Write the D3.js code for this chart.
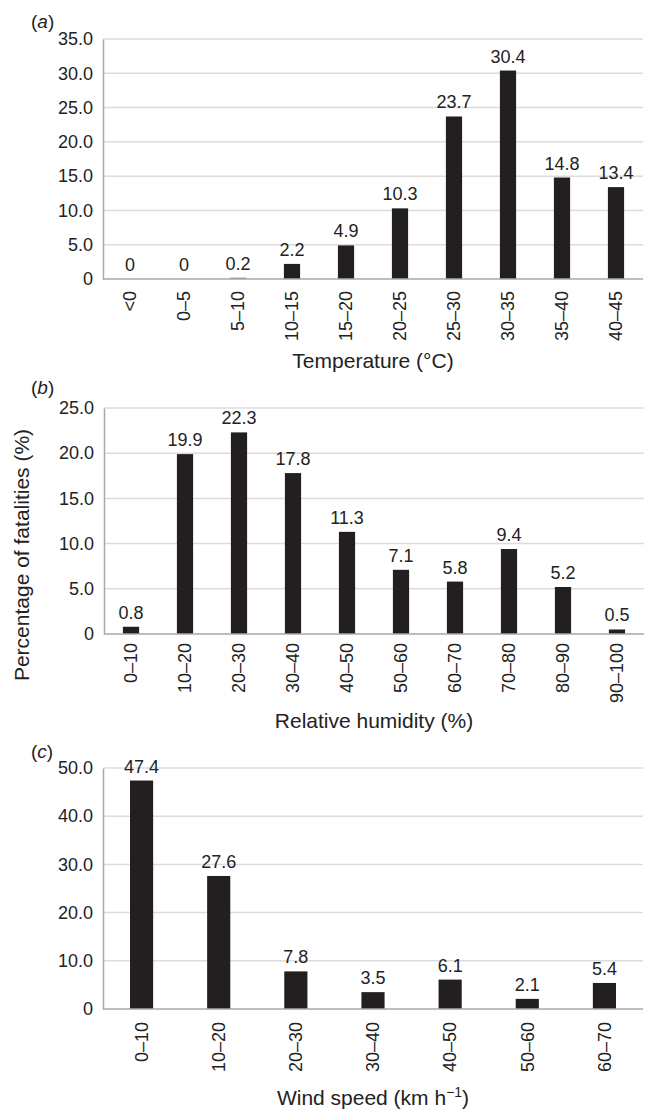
<!DOCTYPE html>
<html>
<head>
<meta charset="utf-8">
<script src="https://cdn.jsdelivr.net/npm/d3@7"></script>
<style>
	body { margin: 0; background: #fff; }
	svg { display: block; font-family: "Liberation Sans", Arial, sans-serif; }
</style>
</head>
<body>
<svg width="645" height="1113"></svg>
<script>
// (a) temperature
let tempCats = ["<0", "0–5", "5–10", "10–15", "15–20", "20–25", "25–30", "30–35", "35–40", "40–45"];
let tempVals = [0, 0, 0.2, 2.2, 4.9, 10.3, 23.7, 30.4, 14.8, 13.4];
let tempTicks = [0, 5, 10, 15, 20, 25, 30, 35];

// (b) relative humidity
let humCats = ["0–10", "10–20", "20–30", "30–40", "40–50", "50–60", "60–70", "70–80", "80–90", "90–100"];
let humVals = [0.8, 19.9, 22.3, 17.8, 11.3, 7.1, 5.8, 9.4, 5.2, 0.5];
let humTicks = [0, 5, 10, 15, 20, 25];

// (c) wind speed
let windCats = ["0–10", "10–20", "20–30", "30–40", "40–50", "50–60", "60–70"];
let windVals = [47.4, 27.6, 7.8, 3.5, 6.1, 2.1, 5.4];
let windTicks = [0, 10, 20, 30, 40, 50];

let svg = d3.select('svg');
let barColor = '#231f20';
let gridColor = '#dcdcdc';
let axisColor = '#a8a8a8';

function drawPanel(p) {
	let x = d3.scaleBand()
		.domain(p.cats)
		.range([p.left, p.right])
		.paddingInner(0.7)
		.paddingOuter(0.35);
	let y = d3.scaleLinear()
		.domain([0, d3.max(p.ticks)])
		.range([p.bottom, p.top]);

	let g = svg.append('g');

	// gridlines
	g.append('g').selectAll('line')
		.data(p.ticks.filter(d => d > 0))
		.enter().append('line')
		.attr('x1', p.left).attr('x2', p.right)
		.attr('y1', d => y(d)).attr('y2', d => y(d))
		.attr('stroke', gridColor).attr('stroke-width', 1.5);

	// y axis
	let yAxis = g.append('g')
		.attr('transform', 'translate(' + p.left + ',0)')
		.call(d3.axisLeft(y).tickValues(p.ticks).tickSize(0).tickPadding(10)
			.tickFormat(d => d === 0 ? '0' : d.toFixed(1)));
	yAxis.select('.domain').attr('stroke', axisColor).attr('stroke-width', 1.5);
	yAxis.selectAll('text').attr('font-size', 18).attr('fill', '#222').attr('font-family', null);

	// bars
	g.append('g').selectAll('rect')
		.data(p.vals)
		.enter().append('rect')
		.attr('x', (d, i) => x(p.cats[i]))
		.attr('width', x.bandwidth())
		.attr('y', d => y(d))
		.attr('height', d => p.bottom - y(d))
		.attr('fill', d => d < 0.5 ? '#8a8a8a' : barColor);

	// x axis baseline
	g.append('line')
		.attr('x1', p.left).attr('x2', p.right)
		.attr('y1', p.bottom).attr('y2', p.bottom)
		.attr('stroke', axisColor).attr('stroke-width', 1.5);

	// value labels
	g.append('g').selectAll('text')
		.data(p.vals)
		.enter().append('text')
		.attr('x', (d, i) => x(p.cats[i]) + x.bandwidth() / 2)
		.attr('y', d => y(d) - 8)
		.attr('text-anchor', 'middle')
		.attr('font-size', 18)
		.attr('fill', '#222')
		.text(d => String(d));

	// category labels, rotated
	g.append('g').selectAll('text')
		.data(p.cats)
		.enter().append('text')
		.attr('transform', d => 'translate(' + (x(d) + x.bandwidth() / 2) + ',' + (p.bottom + p.gap) + ') rotate(-90)')
		.attr('text-anchor', 'end')
		.attr('dy', '0.35em')
		.attr('font-size', 18)
		.attr('fill', '#222')
		.text(d => d);

	// x title
	let t = g.append('text')
		.attr('x', (p.left + p.right) / 2)
		.attr('y', p.titleY)
		.attr('text-anchor', 'middle')
		.attr('font-size', 21)
		.attr('fill', '#222');
	p.title(t);

	// panel letter
	let lab = g.append('text')
		.attr('x', 31).attr('y', p.letterY)
		.attr('font-size', 19).attr('fill', '#222');
	lab.append('tspan').text('(');
	lab.append('tspan').attr('font-style', 'italic').text(p.letter);
	lab.append('tspan').text(')');
}

drawPanel({
	cats: tempCats, vals: tempVals, ticks: tempTicks,
	left: 103, right: 643, top: 39, bottom: 279, gap: 12,
	titleY: 368, letter: 'a', letterY: 28,
	title: t => t.text('Temperature (°C)')
});

drawPanel({
	cats: humCats, vals: humVals, ticks: humTicks,
	left: 104, right: 644, top: 408, bottom: 634, gap: 9,
	titleY: 728, letter: 'b', letterY: 394,
	title: t => t.text('Relative humidity (%)')
});

drawPanel({
	cats: windCats, vals: windVals, ticks: windTicks,
	left: 103, right: 643, top: 768, bottom: 1009, gap: 13,
	titleY: 1105, letter: 'c', letterY: 758,
	title: t => {
		t.append('tspan').text('Wind speed (km h');
		t.append('tspan').attr('dy', -8).attr('font-size', 14).text('−1');
		t.append('tspan').attr('dy', 8).text(')');
	}
});

// shared y title
svg.append('text')
	.attr('transform', 'translate(29,555) rotate(-90)')
	.attr('text-anchor', 'middle')
	.attr('font-size', 21)
	.attr('fill', '#222')
	.text('Percentage of fatalities (%)');
</script>
</body>
</html>
